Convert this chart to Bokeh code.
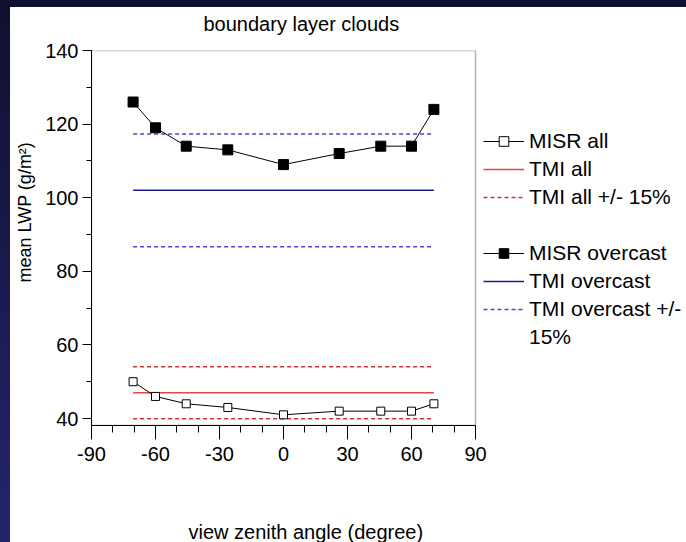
import math
from bokeh.plotting import figure
from bokeh.models import (Range1d, SingleIntervalTicker, Legend, LegendItem, Title,
                          PrintfTickFormatter, BoxAnnotation)
from bokeh.embed import file_html
from bokeh.resources import INLINE

# ---- data ----
view_angles = [-70.5, -60.0, -45.6, -26.1, 0.0, 26.1, 45.6, 60.0, 70.5]
misr_all = [50, 46, 44, 43, 41, 42, 42, 42, 44]
misr_overcast = [126, 119, 114, 113, 109, 112, 114, 114, 124]
tmi_all = 47.0
tmi_overcast = 102.0
tmi_band = 0.15
x_axis_min, x_axis_max = -90, 90
y_axis_min, y_axis_max = 38.1, 140
x_ticks_interval = 30
y_ticks_interval = 20

FONT = "Liberation Sans"

# frame: 91..475 px for -90..90 deg; extended to the right edge so the legend fits inside
px_per_deg = (475 - 91) / (x_axis_max - x_axis_min)
x_view_end = x_axis_max + (686 - 475) / px_per_deg

p = figure(width=686, height=542, output_backend="svg", toolbar_location=None,
           x_range=Range1d(x_axis_min, x_view_end), y_range=Range1d(y_axis_min, y_axis_max),
           min_border_left=91, min_border_right=0, min_border_top=50,
           min_border_bottom=117)

p.background_fill_color = "white"
p.border_fill_color = None
p.styles = {
    "background": ("linear-gradient(#0f0f30, #0f0f30) 0 0 / 100% 7px no-repeat, "
                   "linear-gradient(to bottom, #10102f, #24246e) 0 0 / 10px 100% no-repeat, "
                   "#ffffff")
}
p.grid.visible = False
p.outline_line_color = None

# visible plot box (-90..90)
p.add_layout(BoxAnnotation(left=x_axis_min, right=x_axis_max, bottom=y_axis_min, top=y_axis_max,
                           fill_alpha=0, line_color="black", line_width=1.5))

xa = p.xaxis[0]
xa.bounds = (x_axis_min, x_axis_max)
xa.ticker = SingleIntervalTicker(interval=x_ticks_interval, num_minor_ticks=3)
xa.formatter = PrintfTickFormatter(format="%d")
xa.major_tick_in = 0
xa.major_tick_out = 14
xa.minor_tick_in = 0
xa.minor_tick_out = 7
xa.major_label_standoff = 7
ya = p.yaxis[0]
ya.ticker = SingleIntervalTicker(interval=y_ticks_interval, num_minor_ticks=2)
ya.formatter = PrintfTickFormatter(format="%d")
ya.major_tick_in = 0
ya.major_tick_out = 9
ya.minor_tick_in = 0
ya.minor_tick_out = 5
ya.major_label_standoff = 4
for ax in (xa, ya):
    ax.major_label_text_font = FONT
    ax.major_label_text_font_size = "20px"
    ax.major_label_text_color = "black"
    ax.axis_line_color = "black"
    ax.major_tick_line_color = "black"
    ax.minor_tick_line_color = "black"

x0, x1 = view_angles[0], view_angles[-1]
RED = "#e24646"
RED_D = "#d83030"
BLUE = "#1c1c8e"
BLUE_D = "#4646dc"

r_all_hi = p.line([x0, x1], [tmi_all * (1 + tmi_band)] * 2, line_color=RED_D, line_width=1.5, line_dash="4 3")
r_all_lo = p.line([x0, x1], [tmi_all * (1 - tmi_band)] * 2, line_color=RED_D, line_width=1.5, line_dash="4 3")
r_all = p.line([x0, x1], [tmi_all] * 2, line_color=RED, line_width=1.5)

r_ov_hi = p.line([x0, x1], [tmi_overcast * (1 + tmi_band)] * 2, line_color=BLUE_D, line_width=1.5, line_dash="4 3")
r_ov_lo = p.line([x0, x1], [tmi_overcast * (1 - tmi_band)] * 2, line_color=BLUE_D, line_width=1.5, line_dash="4 3")
r_ov = p.line([x0, x1], [tmi_overcast] * 2, line_color=BLUE, line_width=1.5)

r_ma_line = p.line(view_angles, misr_all, line_color="black", line_width=1)
r_ma_pts = p.scatter(view_angles, misr_all, marker="square", size=8,
                     fill_color="white", line_color="black", line_width=1)
r_mo_line = p.line(view_angles, misr_overcast, line_color="black", line_width=1)
r_mo_pts = p.scatter(view_angles, misr_overcast, marker="square", size=10,
                     fill_color="black", line_color="black", line_width=1)

r_blank = p.line([x0, x1], [tmi_all] * 2, line_alpha=0)

legend = Legend(items=[
    LegendItem(label="MISR all", renderers=[r_ma_line, r_ma_pts]),
    LegendItem(label="TMI all", renderers=[r_all]),
    LegendItem(label="TMI all +/- 15%", renderers=[r_all_hi]),
    LegendItem(label=" ", renderers=[r_blank]),
    LegendItem(label="MISR overcast", renderers=[r_mo_line, r_mo_pts]),
    LegendItem(label="TMI overcast", renderers=[r_ov]),
    LegendItem(label="TMI overcast +/-", renderers=[r_ov_hi]),
    LegendItem(label="15%", renderers=[r_blank]),
], location=(392, 76))
legend.glyph_width = 41
legend.glyph_height = 24
legend.label_height = 24
legend.label_standoff = 5
legend.spacing = 4
legend.padding = 0
legend.margin = 0
legend.border_line_color = None
legend.background_fill_alpha = 0
legend.label_text_font = FONT
legend.label_text_font_size = "21px"
legend.label_text_color = "black"
p.add_layout(legend)

# titles: spacer first (next to the frame), then the text
p.add_layout(Title(text=" ", text_font_size="8px", standoff=5), "above")
p.add_layout(Title(text="boundary layer clouds", text_font=FONT, text_font_size="20px",
                   text_font_style="normal", text_color="black", align="left",
                   offset=112, standoff=0), "above")

p.add_layout(Title(text=" ", text_font_size="8px", standoff=44), "below")
p.add_layout(Title(text="view zenith angle (degree)", text_font=FONT, text_font_size="20px",
                   text_font_style="normal", text_color="black", align="left",
                   offset=97, standoff=0), "below")

p.add_layout(Title(text="mean LWP (g/m\u00b2)", text_font=FONT, text_font_size="18px",
                   text_font_style="normal", text_color="black", align="left",
                   offset=143, standoff=15), "left")

open("out.html", "w").write(file_html(p, INLINE))
